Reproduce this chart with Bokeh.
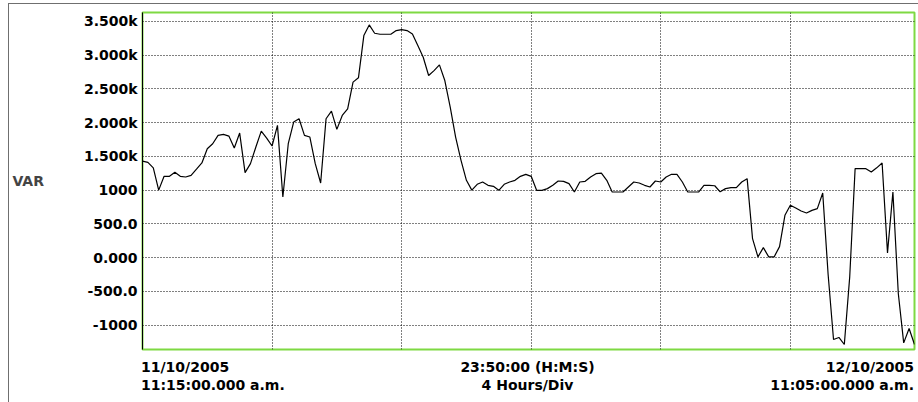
from bokeh.plotting import figure
from bokeh.models import Range1d, FixedTicker, Div
from bokeh.layouts import column
from bokeh.embed import file_html
from bokeh.resources import INLINE

# ---- data (10-minute samples, minutes after 11/10/2005 11:15:00 a.m.) ----
interval_min = 10
var_values = [
    1430, 1410, 1330, 1000, 1204, 1204, 1263, 1204, 1194, 1219,
    1310, 1402, 1613, 1687, 1810, 1825, 1800, 1623, 1845, 1259,
    1392, 1638, 1874, 1771, 1653, 1958, 898, 1687, 2007, 2057,
    1810, 1786, 1392, 1105, 2057, 2170, 1899, 2106, 2204, 2599,
    2663, 3288, 3446, 3323, 3308, 3308, 3308, 3362, 3377, 3362,
    3313, 3140, 2968, 2697, 2770, 2855, 2623, 2229, 1786, 1441,
    1145, 1000, 1086, 1120, 1071, 1056, 997, 1086, 1120, 1145,
    1204, 1234, 1204, 997, 997, 1022, 1071, 1135, 1130, 1096,
    972, 1120, 1130, 1194, 1243, 1253, 1145, 972, 972, 972,
    1046, 1120, 1105, 1071, 1046, 1135, 1120, 1194, 1234, 1234,
    1120, 972, 972, 972, 1071, 1071, 1065, 975, 1022, 1037,
    1037, 1120, 1170, 282, 11, 149, 11, 11, 163, 627,
    775, 735, 690, 661, 700, 726, 957, -250, -1212, -1182,
    -1286, -285, 1318, 1318, 1318, 1268, 1330, 1401, 70, 972,
    -531, -1262, -1049, -1286,
]
minutes = [i * interval_min for i in range(len(var_values))]

y_ticks = [3500, 3000, 2500, 2000, 1500, 1000, 500, 0, -500, -1000]
y_tick_labels = ["3.500k", "3.000k", "2.500k", "2.000k", "1.500k",
                 "1000", "500.0", "0.000", "-500.0", "-1000"]
y_min, y_max = -1360, 3630
span_minutes = 1430
div_minutes = 240
x_grid = list(range(div_minutes, span_minutes, div_minutes))

start_label = ["11/10/2005", "11:15:00.000 a.m."]
mid_label = ["23:50:00 (H:M:S)", "4 Hours/Div"]
end_label = ["12/10/2005", "11:05:00.000 a.m."]
y_label = "VAR"

FONT = "DejaVu Sans"
GREEN = "#7ed942"

W = 909
BL, BR = 132, 4
p = figure(width=W, height=347, output_backend="svg", toolbar_location=None,
           x_range=Range1d(0, span_minutes), y_range=Range1d(y_min, y_max),
           min_border_left=BL, min_border_right=BR, min_border_top=8,
           min_border_bottom=2)

p.outline_line_color = GREEN
p.outline_line_width = 2
p.background_fill_color = "white"
p.border_fill_color = "white"

# grids
p.xgrid.ticker = FixedTicker(ticks=x_grid)
p.ygrid.ticker = FixedTicker(ticks=y_ticks)
for g in (p.xgrid, p.ygrid):
    g.grid_line_color = "black"
    g.grid_line_dash = "1 2"
    g.grid_line_width = 1
    g.grid_line_alpha = 1.0

p.xaxis.visible = False

# y axis
ya = p.yaxis[0]
ya.ticker = FixedTicker(ticks=y_ticks)
ya.major_label_overrides = {t: l for t, l in zip(y_ticks, y_tick_labels)}
ya.major_label_text_font = FONT
ya.major_label_text_font_style = "bold"
ya.major_label_text_font_size = "14px"
ya.major_label_text_color = "black"
ya.major_tick_line_color = None
ya.minor_tick_line_color = None
ya.major_tick_out = 0
ya.major_tick_in = 0
ya.major_label_standoff = 5
ya.axis_line_color = "black"
ya.axis_line_width = 1
ya.axis_label = y_label
ya.axis_label_orientation = "horizontal"
ya.axis_label_text_font = FONT
ya.axis_label_text_font_style = "bold"
ya.axis_label_text_font_size = "14px"
ya.axis_label_standoff = 37

p.line(minutes, var_values, line_color="black", line_width=1.2)

# time annotations under the plot area
frame_left = BL
frame_right = W - BR
frame_mid = (frame_left + frame_right) / 2
common = ("position:absolute;top:7px;white-space:nowrap;"
          "font-family:DejaVu Sans,sans-serif;font-weight:bold;font-size:14px;"
          "line-height:18px;color:black;")
html = (
    f'<div style="position:relative;width:{W}px;height:51px;">'
    f'<div style="{common}left:{frame_left}px;text-align:left;">'
    f'{start_label[0]}<br>{start_label[1]}</div>'
    f'<div style="{common}left:{frame_mid}px;transform:translateX(-50%);'
    f'text-align:center;">{mid_label[0]}<br>{mid_label[1]}</div>'
    f'<div style="{common}right:{W - frame_right}px;text-align:right;">'
    f'{end_label[0]}<br>{end_label[1]}</div>'
    '</div>'
)
labels = Div(text=html, width=W, height=51, margin=0)

layout = column(p, labels, spacing=0)
layout.styles = {"margin-left": "8px", "margin-top": "3px",
                 "border-left": "1px solid #6f6f6f",
                 "border-top": "1px solid #6f6f6f"}

open("out.html", "w").write(file_html(layout, INLINE))
